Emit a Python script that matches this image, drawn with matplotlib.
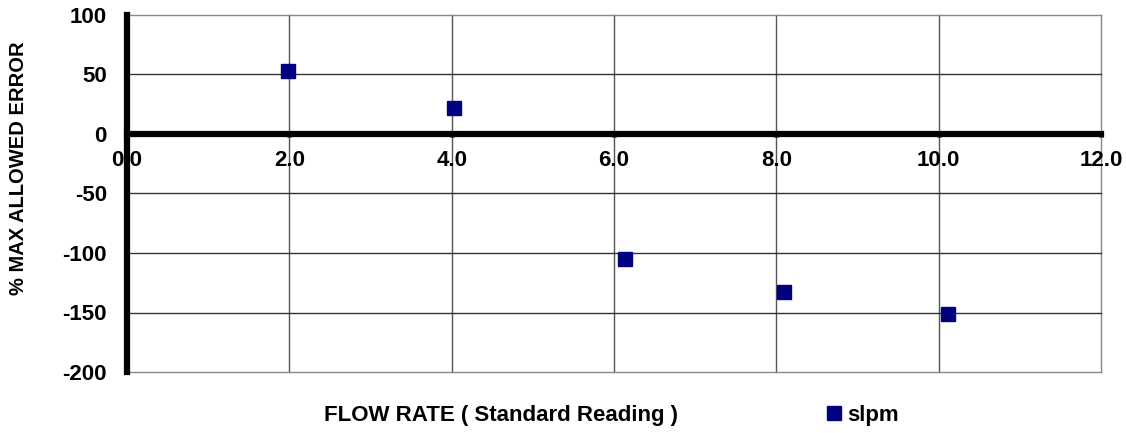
import matplotlib
matplotlib.use("Agg")
import matplotlib.pyplot as plt
from matplotlib.lines import Line2D

# Measured flow error points
flow_rate = [1.98, 4.03, 6.13, 8.10, 10.12]
pct_error = [52.8, 22.0, -105.0, -132.7, -151.2]
series_name = "slpm"

x_ticks = [0, 2, 4, 6, 8, 10, 12]
x_tick_labels = ["0.0", "2.0", "4.0", "6.0", "8.0", "10.0", "12.0"]
y_ticks = [-200, -150, -100, -50, 0, 50, 100]

plt.rcParams["font.family"] = ["Liberation Sans", "DejaVu Sans"]
plt.rcParams["font.weight"] = "bold"
plt.rcParams["axes.unicode_minus"] = False

W, H = 1126, 433
fig = plt.figure(figsize=(W / 100, H / 100), dpi=100)
left, right, top, bottom = 127, 1101, 15, 372
ax = fig.add_axes([left / W, 1 - bottom / H, (right - left) / W, (bottom - top) / H])

ax.set_xlim(0, 12)
ax.set_ylim(-200, 100)

# grid lines
for xv in x_ticks[1:]:
    ax.axvline(xv, color="#555555" if xv != 12 else "#888888",
               lw=1.0, zorder=1, clip_on=False)
for yv in y_ticks:
    if yv != 0:
        ax.axhline(yv, color="#333333" if yv not in (100, -200) else "#888888",
                   lw=1.0, zorder=1, clip_on=False)

ax.plot(flow_rate, pct_error, linestyle="none", marker="s", markersize=10.5,
        color="#000080", zorder=3, label=series_name)

for side in ("top", "right"):
    ax.spines[side].set_visible(False)
ax.spines["bottom"].set_position(("data", 0))
ax.spines["bottom"].set_linewidth(4.5)
ax.spines["left"].set_linewidth(4.5)
ax.spines["bottom"].set_zorder(4)
ax.spines["left"].set_zorder(4)

ax.set_xticks(x_ticks)
ax.set_xticklabels(x_tick_labels)
ax.set_yticks(y_ticks)
ax.tick_params(axis="both", direction="out", length=2.5, width=3.5, labelsize=16)
ax.tick_params(axis="x", pad=9)
ax.tick_params(axis="y", pad=12)
for lbl in ax.get_xticklabels() + ax.get_yticklabels():
    lbl.set_fontweight("bold")

fig.text(19 / W, 1 - 168 / H, "% MAX ALLOWED ERROR", rotation=90, ha="center",
         va="center", fontsize=14.5, fontweight="bold")
fig.text(501 / W, 1 - 415 / H, "FLOW RATE ( Standard Reading )", ha="center",
         va="center", fontsize=16, fontweight="bold")

handle = Line2D([], [], linestyle="none", marker="s", markersize=10.5, color="#000080")
fig.legend([handle], [series_name], loc="center left",
           bbox_to_anchor=(826 / W, 1 - 415 / H), frameon=False,
           handlelength=0.7, handletextpad=0.25, borderpad=0, borderaxespad=0,
           prop={"weight": "bold", "size": 16})

fig.savefig("out.png", dpi=100)
